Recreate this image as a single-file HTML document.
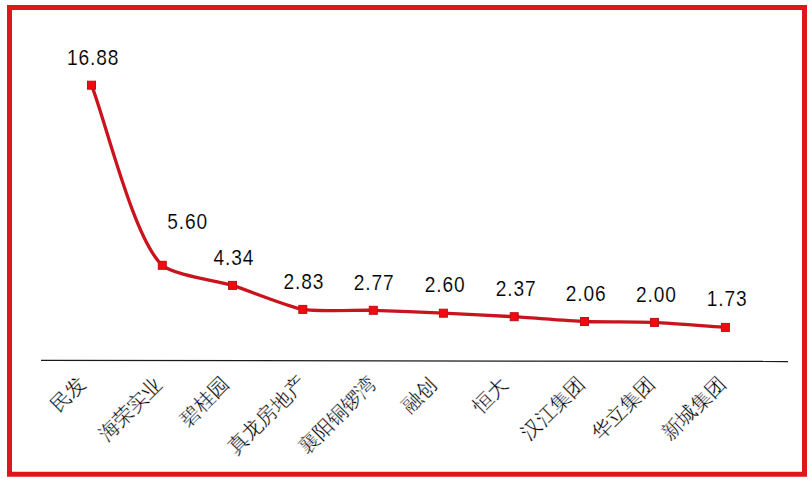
<!DOCTYPE html>
<html><head><meta charset="utf-8"><style>
html,body{margin:0;padding:0;background:#fff;width:812px;height:482px;overflow:hidden}
svg{display:block}
.v{font-family:"Liberation Sans",sans-serif;font-size:22px;fill:#000;text-anchor:middle;letter-spacing:1px;stroke:#fff;stroke-width:0.15px}
.c{font-family:"Liberation Sans",sans-serif;font-size:20px;fill:#000;stroke:#fff;stroke-width:0.3px;text-anchor:end;dominant-baseline:central}
</style></head><body>
<svg width="812" height="482" viewBox="0 0 812 482" xmlns="http://www.w3.org/2000/svg">
<rect x="9.5" y="7.5" width="795" height="466.75" fill="none" stroke="#dc181d" stroke-width="5"/>
<line x1="41" y1="360.4" x2="788" y2="361.5" stroke="#1a1a1a" stroke-width="1.3"/>
<path d="M91.50,85.20 C105.66,121.22 133.66,239.27 162.30,265.30 C173.11,275.12 218.57,281.03 232.50,285.40 C246.68,289.85 288.16,306.87 302.80,309.40 C316.70,311.80 359.20,309.92 373.30,310.30 C387.33,310.68 429.38,312.56 443.40,313.20 C457.56,313.84 500.05,315.87 514.20,316.70 C528.27,317.53 570.42,320.93 584.50,321.50 C598.49,322.07 640.51,321.82 654.50,322.40 C668.70,322.99 711.22,326.40 725.40,327.40" fill="none" stroke="#c9131d" stroke-width="3.3" stroke-linejoin="round"/>
<rect x="87.50" y="81.20" width="8" height="8" fill="#f20a0e" stroke="#c01018" stroke-width="1"/>
<rect x="158.30" y="261.30" width="8" height="8" fill="#f20a0e" stroke="#c01018" stroke-width="1"/>
<rect x="228.50" y="281.40" width="8" height="8" fill="#f20a0e" stroke="#c01018" stroke-width="1"/>
<rect x="298.80" y="305.40" width="8" height="8" fill="#f20a0e" stroke="#c01018" stroke-width="1"/>
<rect x="369.30" y="306.30" width="8" height="8" fill="#f20a0e" stroke="#c01018" stroke-width="1"/>
<rect x="439.40" y="309.20" width="8" height="8" fill="#f20a0e" stroke="#c01018" stroke-width="1"/>
<rect x="510.20" y="312.70" width="8" height="8" fill="#f20a0e" stroke="#c01018" stroke-width="1"/>
<rect x="580.50" y="317.50" width="8" height="8" fill="#f20a0e" stroke="#c01018" stroke-width="1"/>
<rect x="650.50" y="318.40" width="8" height="8" fill="#f20a0e" stroke="#c01018" stroke-width="1"/>
<rect x="721.40" y="323.40" width="8" height="8" fill="#f20a0e" stroke="#c01018" stroke-width="1"/>
<text transform="translate(93.20,64.80) scale(0.87,1)" class="v">16.88</text>
<text transform="translate(187.70,228.90) scale(0.87,1)" class="v">5.60</text>
<text transform="translate(233.90,264.90) scale(0.87,1)" class="v">4.34</text>
<text transform="translate(303.90,288.90) scale(0.87,1)" class="v">2.83</text>
<text transform="translate(374.10,290.00) scale(0.87,1)" class="v">2.77</text>
<text transform="translate(445.10,292.20) scale(0.87,1)" class="v">2.60</text>
<text transform="translate(516.20,296.20) scale(0.87,1)" class="v">2.37</text>
<text transform="translate(586.10,301.10) scale(0.87,1)" class="v">2.06</text>
<text transform="translate(656.30,302.00) scale(0.87,1)" class="v">2.00</text>
<text transform="translate(727.10,305.90) scale(0.87,1)" class="v">1.73</text>
<text transform="translate(82.30,380.10) rotate(-45)" class="c">民发</text>
<text transform="translate(158.60,380.75) rotate(-45)" class="c">海荣实业</text>
<text transform="translate(225.55,380.20) rotate(-45)" class="c">碧桂园</text>
<text transform="translate(301.95,379.30) rotate(-45)" class="c">真龙房地产</text>
<text transform="translate(372.50,379.75) rotate(-45)" class="c">襄阳铜锣湾</text>
<text transform="translate(433.45,380.60) rotate(-45)" class="c">融创</text>
<text transform="translate(504.45,380.70) rotate(-45)" class="c">恒大</text>
<text transform="translate(581.05,379.55) rotate(-45)" class="c">汉江集团</text>
<text transform="translate(651.55,379.50) rotate(-45)" class="c">华立集团</text>
<text transform="translate(721.95,379.55) rotate(-45)" class="c">新城集团</text>
</svg>
</body></html>
